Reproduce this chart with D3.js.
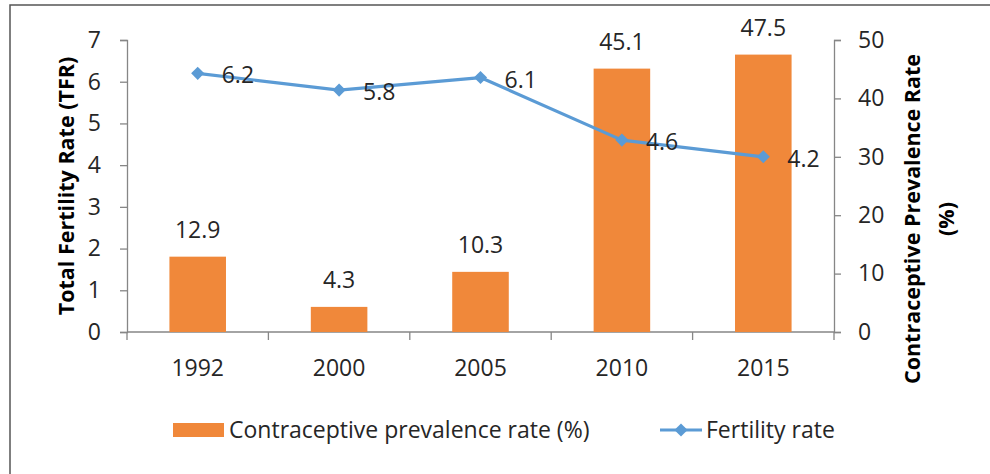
<!DOCTYPE html>
<html>
<head>
<meta charset="utf-8">
<script src="https://cdn.jsdelivr.net/npm/d3@7"></script>
<style>
  body { margin: 0; background: #fff; }
  text { font-family: "Open Sans", sans-serif; }
</style>
</head>
<body>
<script>
const years = ['1992', '2000', '2005', '2010', '2015'];
const contraceptive = [12.9, 4.3, 10.3, 45.1, 47.5];
const fertility = [6.2, 5.8, 6.1, 4.6, 4.2];
const leftTicks = [0, 1, 2, 3, 4, 5, 6, 7];
const rightTicks = [0, 10, 20, 30, 40, 50];

const width = 990, height = 474;
const orange = '#F0883A';
const blue = '#5B9BD5';
const axisColor = '#868686';
const textColor = '#262626';
const fontSize = '23px';

const svg = d3.select('body').append('svg')
    .attr('width', width)
    .attr('height', height);

// frame, cropped on right and bottom like the original
svg.append('rect')
    .attr('x', 10).attr('y', 5)
    .attr('width', 1000).attr('height', 500)
    .attr('fill', 'none')
    .attr('stroke', '#555')
    .attr('stroke-width', 1.5);

const plot = {left: 127, right: 834, top: 40, bottom: 332};

const x = d3.scaleBand()
    .domain(years)
    .range([plot.left, plot.right]);

const yLeft = d3.scaleLinear().domain([0, 7]).range([plot.bottom, plot.top]);
const yRight = d3.scaleLinear().domain([0, 50]).range([plot.bottom, plot.top]);

const barW = x.bandwidth() * 0.4;

// axes
const styleAxis = (g) => {
    g.select('.domain').attr('stroke', axisColor).attr('stroke-width', 1.3);
    g.selectAll('.tick line').attr('stroke', axisColor).attr('stroke-width', 1.3);
    g.selectAll('.tick text')
        .attr('fill', textColor)
        .style('font-size', fontSize)
        .style('font-family', '"Open Sans", sans-serif');
};

svg.append('g')
    .attr('transform', `translate(${plot.left},0)`)
    .call(d3.axisLeft(yLeft).tickValues(leftTicks).tickFormat(d3.format('d'))
        .tickSize(7).tickSizeOuter(7).tickPadding(19))
    .call(styleAxis);

svg.append('g')
    .attr('transform', `translate(${plot.right},0)`)
    .call(d3.axisRight(yRight).tickValues(rightTicks).tickFormat(d3.format('d'))
        .tickSize(7).tickSizeOuter(7).tickPadding(17))
    .call(styleAxis);

// x axis: ticks between categories, labels centred
const xg = svg.append('g')
    .attr('transform', `translate(0,${plot.bottom})`);
xg.append('line')
    .attr('x1', plot.left).attr('x2', plot.right)
    .attr('stroke', axisColor).attr('stroke-width', 1.3);
xg.selectAll('.xtick')
    .data(years.concat(['end']))
    .enter()
    .append('line')
    .attr('x1', (d, i) => plot.left + i * x.step())
    .attr('x2', (d, i) => plot.left + i * x.step())
    .attr('y1', 0).attr('y2', 8)
    .attr('stroke', axisColor).attr('stroke-width', 1.3);
xg.selectAll('.xlabel')
    .data(years)
    .enter()
    .append('text')
    .attr('x', (d) => x(d) + x.bandwidth() / 2)
    .attr('y', 36)
    .attr('dy', '0.35em')
    .attr('text-anchor', 'middle')
    .attr('fill', textColor)
    .style('font-size', fontSize)
    .text((d) => d);

// bars
svg.selectAll('.bar')
    .data(contraceptive)
    .enter()
    .append('rect')
    .attr('x', (d, i) => x(years[i]) + (x.bandwidth() - barW) / 2)
    .attr('y', (d) => yRight(d))
    .attr('width', barW)
    .attr('height', (d) => plot.bottom - yRight(d))
    .attr('fill', orange);

svg.selectAll('.barlabel')
    .data(contraceptive)
    .enter()
    .append('text')
    .attr('x', (d, i) => x(years[i]) + x.bandwidth() / 2)
    .attr('y', (d) => yRight(d) - 27)
    .attr('dy', '0.35em')
    .attr('text-anchor', 'middle')
    .attr('fill', textColor)
    .style('font-size', fontSize)
    .text((d) => d.toFixed(1));

// fertility line
const line = d3.line()
    .x((d, i) => x(years[i]) + x.bandwidth() / 2)
    .y((d) => yLeft(d));

svg.append('path')
    .datum(fertility)
    .attr('d', line)
    .attr('fill', 'none')
    .attr('stroke', blue)
    .attr('stroke-width', 3.2)
    .attr('stroke-linejoin', 'round');

const diamond = d3.symbol().type(d3.symbolDiamond2).size(110);

svg.selectAll('.marker')
    .data(fertility)
    .enter()
    .append('path')
    .attr('d', diamond)
    .attr('transform', (d, i) => `translate(${x(years[i]) + x.bandwidth() / 2},${yLeft(d)})`)
    .attr('fill', blue);

svg.selectAll('.linelabel')
    .data(fertility)
    .enter()
    .append('text')
    .attr('x', (d, i) => x(years[i]) + x.bandwidth() / 2 + 24)
    .attr('y', (d) => yLeft(d) + 2)
    .attr('dy', '0.35em')
    .attr('fill', textColor)
    .style('font-size', fontSize)
    .text((d) => d.toFixed(1));

// axis titles
svg.append('text')
    .attr('transform', `translate(66,${(plot.top + plot.bottom) / 2}) rotate(-90)`)
    .attr('text-anchor', 'middle')
    .attr('dy', '0.35em')
    .attr('fill', '#000')
    .style('font-size', '21.5px')
    .style('font-weight', 'bold')
    .text('Total Fertility Rate (TFR)');

const rt = svg.append('text')
    .attr('transform', `translate(912,219) rotate(-90)`)
    .attr('text-anchor', 'middle')
    .attr('fill', '#000')
    .style('font-size', '21.5px')
    .style('font-weight', 'bold');
rt.append('tspan').attr('x', 0).attr('dy', '0.35em').text('Contraceptive Prevalence Rate');
rt.append('tspan').attr('x', 0).attr('dy', '1.6em').text('(%)');

// legend
const legend = svg.append('g').attr('transform', 'translate(0,430)');
legend.append('rect')
    .attr('x', 173).attr('y', -7)
    .attr('width', 51).attr('height', 14)
    .attr('fill', orange);
legend.append('text')
    .attr('x', 229).attr('dy', '0.35em')
    .attr('fill', textColor)
    .style('font-size', fontSize)
    .text('Contraceptive prevalence rate (%)');
legend.append('line')
    .attr('x1', 660).attr('x2', 702)
    .attr('stroke', blue).attr('stroke-width', 3.2);
legend.append('path')
    .attr('d', diamond)
    .attr('transform', 'translate(681,0)')
    .attr('fill', blue);
legend.append('text')
    .attr('x', 706).attr('dy', '0.35em')
    .attr('fill', textColor)
    .style('font-size', fontSize)
    .text('Fertility rate');
</script>
</body>
</html>
